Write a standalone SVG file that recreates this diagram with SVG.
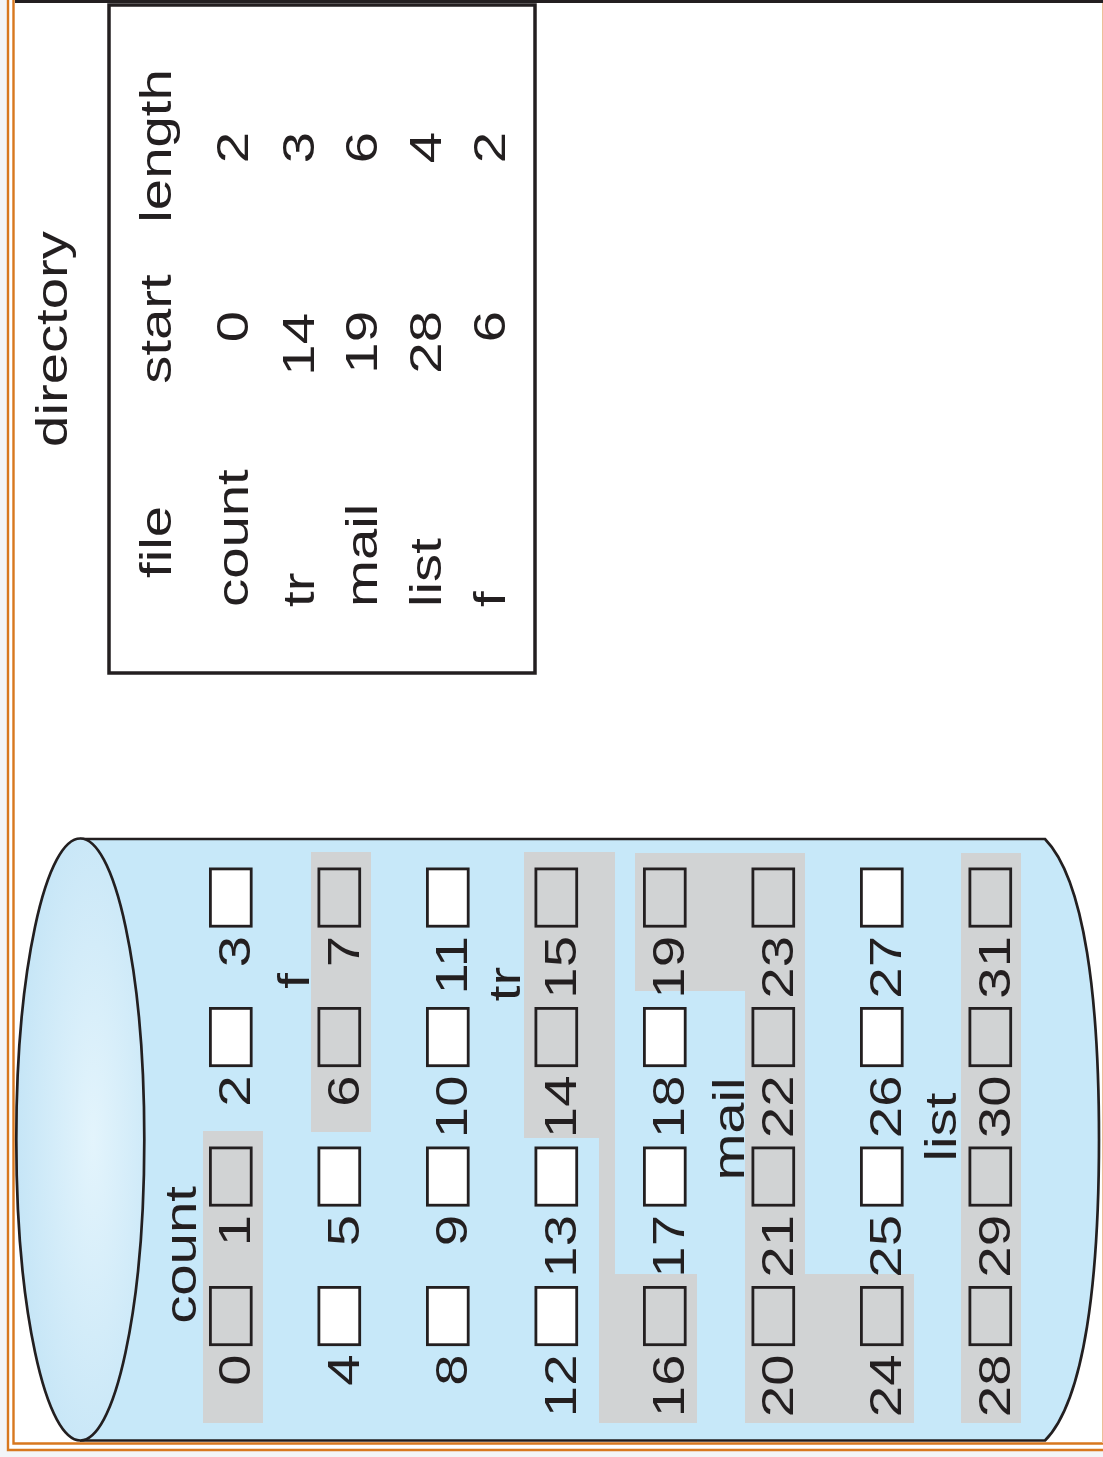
<svg xmlns="http://www.w3.org/2000/svg" width="1103" height="1457" viewBox="0 0 1103 1457">
  <style>
    .t { font-family: "Liberation Sans", Arial, Helvetica, sans-serif; font-size: 44px; fill: #231f20; }
    .mid { text-anchor: middle; }
    .end { text-anchor: end; }
    .edge { fill: none; stroke: #231f20; stroke-width: 2.7; }
    .cap { fill: url(#capFill); stroke: #231f20; stroke-width: 2.7; }
    .blk { stroke: #231f20; stroke-width: 2.8; }
    .free { fill: #ffffff; }
    .used { fill: #d1d3d4; }
    .shade { fill: #d1d3d4; }
    .frame { fill: none; stroke: #d8781f; stroke-width: 2.4; }
  </style>
  <defs>
    <radialGradient id="capFill" cx="0.6" cy="0.5" r="0.65">
      <stop offset="0" stop-color="#e3f4fc"/>
      <stop offset="1" stop-color="#c3e4f6"/>
    </radialGradient>
  </defs>

  <!-- page background and double orange frame -->
  <rect x="0" y="0" width="1103" height="1457" fill="#f3f5f8"/>
  <rect x="8" y="0" width="1095" height="1450" fill="#ffffff"/>
  <path class="frame" d="M8,0 V1450 H1103"/>
  <path class="frame" d="M13.5,0 V1443.5 H1103"/>
  <line x1="1102.5" y1="0" x2="1102.5" y2="1443" stroke="#ecc098" stroke-width="1"/>
  <rect x="15" y="0" width="1088" height="3" fill="#231f20"/>

  <!-- directory table -->
  <g id="directory">
    <rect x="109" y="5" width="426" height="668" fill="#ffffff" stroke="#231f20" stroke-width="3.5"/>
    <text class="t mid" transform="translate(67 339) rotate(-90) scale(1.28 1)">directory</text>
    <g id="dir-header">
      <text class="t mid" transform="translate(171 542) rotate(-90) scale(1.28 1)">file</text>
      <text class="t mid" transform="translate(171 329) rotate(-90) scale(1.28 1)">start</text>
      <text class="t mid" transform="translate(171 146) rotate(-90) scale(1.28 1)">length</text>
    </g>
    <g id="dir-count">
      <text class="t" transform="translate(248 607) rotate(-90) scale(1.28 1)">count</text>
      <text class="t end" transform="translate(248 311) rotate(-90) scale(1.28 1)">0</text>
      <text class="t end" transform="translate(248 132) rotate(-90) scale(1.28 1)">2</text>
    </g>
    <g id="dir-tr">
      <text class="t" transform="translate(314 607) rotate(-90) scale(1.28 1)">tr</text>
      <text class="t end" transform="translate(314 313) rotate(-90) scale(1.28 1)">14</text>
      <text class="t end" transform="translate(314 132) rotate(-90) scale(1.28 1)">3</text>
    </g>
    <g id="dir-mail">
      <text class="t" transform="translate(377 607) rotate(-90) scale(1.28 1)">mail</text>
      <text class="t end" transform="translate(377 311) rotate(-90) scale(1.28 1)">19</text>
      <text class="t end" transform="translate(377 132) rotate(-90) scale(1.28 1)">6</text>
    </g>
    <g id="dir-list">
      <text class="t" transform="translate(441 607) rotate(-90) scale(1.28 1)">list</text>
      <text class="t end" transform="translate(441 311) rotate(-90) scale(1.28 1)">28</text>
      <text class="t end" transform="translate(441 132) rotate(-90) scale(1.28 1)">4</text>
    </g>
    <g id="dir-f">
      <text class="t" transform="translate(505 607) rotate(-90) scale(1.28 1)">f</text>
      <text class="t end" transform="translate(505 311) rotate(-90) scale(1.28 1)">6</text>
      <text class="t end" transform="translate(505 132) rotate(-90) scale(1.28 1)">2</text>
    </g>
  </g>

  <!-- disk drawn as a cylinder lying on its side -->
  <g id="disk">
    <path d="M80,839 H1045 C1085,880 1099,1000 1099,1139 C1099,1278 1085,1400 1045,1440.5 H80 Z" fill="#c7e8f9"/>
    <path class="edge" d="M80,839 H1045 C1085,880 1099,1000 1099,1139 C1099,1278 1085,1400 1045,1440.5 H80"/>
    <ellipse class="cap" cx="80.3" cy="1139.5" rx="64" ry="301"/>

    <!-- allocated extents -->
    <g id="extents">
      <rect id="extent-count" class="shade" x="203" y="1131" width="60" height="292"/>
      <rect id="extent-f" class="shade" x="311" y="852" width="60" height="280"/>
      <polygon id="extent-tr" class="shade" points="524,852 615,852 615,1274 697,1274 697,1423 599,1423 599,1138 524,1138"/>
      <polygon id="extent-mail" class="shade" points="635,853 805,853 805,1274 914,1274 914,1423 745,1423 745,991 635,991"/>
      <rect id="extent-list" class="shade" x="961" y="853" width="60" height="570"/>
    </g>

    <!-- file names on the extents -->
    <g id="extent-labels">
      <text class="t mid" transform="translate(196 1255) rotate(-90) scale(1.28 1)">count</text>
      <text class="t mid" transform="translate(309 981) rotate(-90) scale(1.28 1)">f</text>
      <text class="t mid" transform="translate(520 984) rotate(-90) scale(1.28 1)">tr</text>
      <text class="t mid" transform="translate(744 1129) rotate(-90) scale(1.28 1)">mail</text>
      <text class="t mid" transform="translate(956 1127) rotate(-90) scale(1.28 1)">list</text>
    </g>

    <!-- blocks 0..31: four per column, columns 108.5 apart -->
    <g id="blocks">
      <g id="block-0"><rect class="blk used" x="210.4" y="1287.4" width="40.8" height="57.3"/><text class="t end" transform="translate(250 1354.5) rotate(-90) scale(1.28 1)">0</text></g>
      <g id="block-1"><rect class="blk used" x="210.4" y="1147.9" width="40.8" height="57.3"/><text class="t end" transform="translate(250 1215) rotate(-90) scale(1.28 1)">1</text></g>
      <g id="block-2"><rect class="blk free" x="210.4" y="1008.4" width="40.8" height="57.3"/><text class="t end" transform="translate(250 1075.5) rotate(-90) scale(1.28 1)">2</text></g>
      <g id="block-3"><rect class="blk free" x="210.4" y="868.9" width="40.8" height="57.3"/><text class="t end" transform="translate(250 936) rotate(-90) scale(1.28 1)">3</text></g>

      <g id="block-4"><rect class="blk free" x="318.9" y="1287.4" width="40.8" height="57.3"/><text class="t end" transform="translate(358.5 1354.5) rotate(-90) scale(1.28 1)">4</text></g>
      <g id="block-5"><rect class="blk free" x="318.9" y="1147.9" width="40.8" height="57.3"/><text class="t end" transform="translate(358.5 1215) rotate(-90) scale(1.28 1)">5</text></g>
      <g id="block-6"><rect class="blk used" x="318.9" y="1008.4" width="40.8" height="57.3"/><text class="t end" transform="translate(358.5 1075.5) rotate(-90) scale(1.28 1)">6</text></g>
      <g id="block-7"><rect class="blk used" x="318.9" y="868.9" width="40.8" height="57.3"/><text class="t end" transform="translate(358.5 936) rotate(-90) scale(1.28 1)">7</text></g>

      <g id="block-8"><rect class="blk free" x="427.4" y="1287.4" width="40.8" height="57.3"/><text class="t end" transform="translate(467 1354.5) rotate(-90) scale(1.28 1)">8</text></g>
      <g id="block-9"><rect class="blk free" x="427.4" y="1147.9" width="40.8" height="57.3"/><text class="t end" transform="translate(467 1215) rotate(-90) scale(1.28 1)">9</text></g>
      <g id="block-10"><rect class="blk free" x="427.4" y="1008.4" width="40.8" height="57.3"/><text class="t end" transform="translate(467 1075.5) rotate(-90) scale(1.28 1)">10</text></g>
      <g id="block-11"><rect class="blk free" x="427.4" y="868.9" width="40.8" height="57.3"/><text class="t end" transform="translate(467 936) rotate(-90) scale(1.28 1)">11</text></g>

      <g id="block-12"><rect class="blk free" x="535.9" y="1287.4" width="40.8" height="57.3"/><text class="t end" transform="translate(575.5 1354.5) rotate(-90) scale(1.28 1)">12</text></g>
      <g id="block-13"><rect class="blk free" x="535.9" y="1147.9" width="40.8" height="57.3"/><text class="t end" transform="translate(575.5 1215) rotate(-90) scale(1.28 1)">13</text></g>
      <g id="block-14"><rect class="blk used" x="535.9" y="1008.4" width="40.8" height="57.3"/><text class="t end" transform="translate(575.5 1075.5) rotate(-90) scale(1.28 1)">14</text></g>
      <g id="block-15"><rect class="blk used" x="535.9" y="868.9" width="40.8" height="57.3"/><text class="t end" transform="translate(575.5 936) rotate(-90) scale(1.28 1)">15</text></g>

      <g id="block-16"><rect class="blk used" x="644.4" y="1287.4" width="40.8" height="57.3"/><text class="t end" transform="translate(684 1354.5) rotate(-90) scale(1.28 1)">16</text></g>
      <g id="block-17"><rect class="blk free" x="644.4" y="1147.9" width="40.8" height="57.3"/><text class="t end" transform="translate(684 1215) rotate(-90) scale(1.28 1)">17</text></g>
      <g id="block-18"><rect class="blk free" x="644.4" y="1008.4" width="40.8" height="57.3"/><text class="t end" transform="translate(684 1075.5) rotate(-90) scale(1.28 1)">18</text></g>
      <g id="block-19"><rect class="blk used" x="644.4" y="868.9" width="40.8" height="57.3"/><text class="t end" transform="translate(684 936) rotate(-90) scale(1.28 1)">19</text></g>

      <g id="block-20"><rect class="blk used" x="752.9" y="1287.4" width="40.8" height="57.3"/><text class="t end" transform="translate(792.5 1354.5) rotate(-90) scale(1.28 1)">20</text></g>
      <g id="block-21"><rect class="blk used" x="752.9" y="1147.9" width="40.8" height="57.3"/><text class="t end" transform="translate(792.5 1215) rotate(-90) scale(1.28 1)">21</text></g>
      <g id="block-22"><rect class="blk used" x="752.9" y="1008.4" width="40.8" height="57.3"/><text class="t end" transform="translate(792.5 1075.5) rotate(-90) scale(1.28 1)">22</text></g>
      <g id="block-23"><rect class="blk used" x="752.9" y="868.9" width="40.8" height="57.3"/><text class="t end" transform="translate(792.5 936) rotate(-90) scale(1.28 1)">23</text></g>

      <g id="block-24"><rect class="blk used" x="861.4" y="1287.4" width="40.8" height="57.3"/><text class="t end" transform="translate(901 1354.5) rotate(-90) scale(1.28 1)">24</text></g>
      <g id="block-25"><rect class="blk free" x="861.4" y="1147.9" width="40.8" height="57.3"/><text class="t end" transform="translate(901 1215) rotate(-90) scale(1.28 1)">25</text></g>
      <g id="block-26"><rect class="blk free" x="861.4" y="1008.4" width="40.8" height="57.3"/><text class="t end" transform="translate(901 1075.5) rotate(-90) scale(1.28 1)">26</text></g>
      <g id="block-27"><rect class="blk free" x="861.4" y="868.9" width="40.8" height="57.3"/><text class="t end" transform="translate(901 936) rotate(-90) scale(1.28 1)">27</text></g>

      <g id="block-28"><rect class="blk used" x="969.9" y="1287.4" width="40.8" height="57.3"/><text class="t end" transform="translate(1009.5 1354.5) rotate(-90) scale(1.28 1)">28</text></g>
      <g id="block-29"><rect class="blk used" x="969.9" y="1147.9" width="40.8" height="57.3"/><text class="t end" transform="translate(1009.5 1215) rotate(-90) scale(1.28 1)">29</text></g>
      <g id="block-30"><rect class="blk used" x="969.9" y="1008.4" width="40.8" height="57.3"/><text class="t end" transform="translate(1009.5 1075.5) rotate(-90) scale(1.28 1)">30</text></g>
      <g id="block-31"><rect class="blk used" x="969.9" y="868.9" width="40.8" height="57.3"/><text class="t end" transform="translate(1009.5 936) rotate(-90) scale(1.28 1)">31</text></g>
    </g>
  </g>

  <!-- no connectors in this figure -->
  <g id="connectors"/>
</svg>
